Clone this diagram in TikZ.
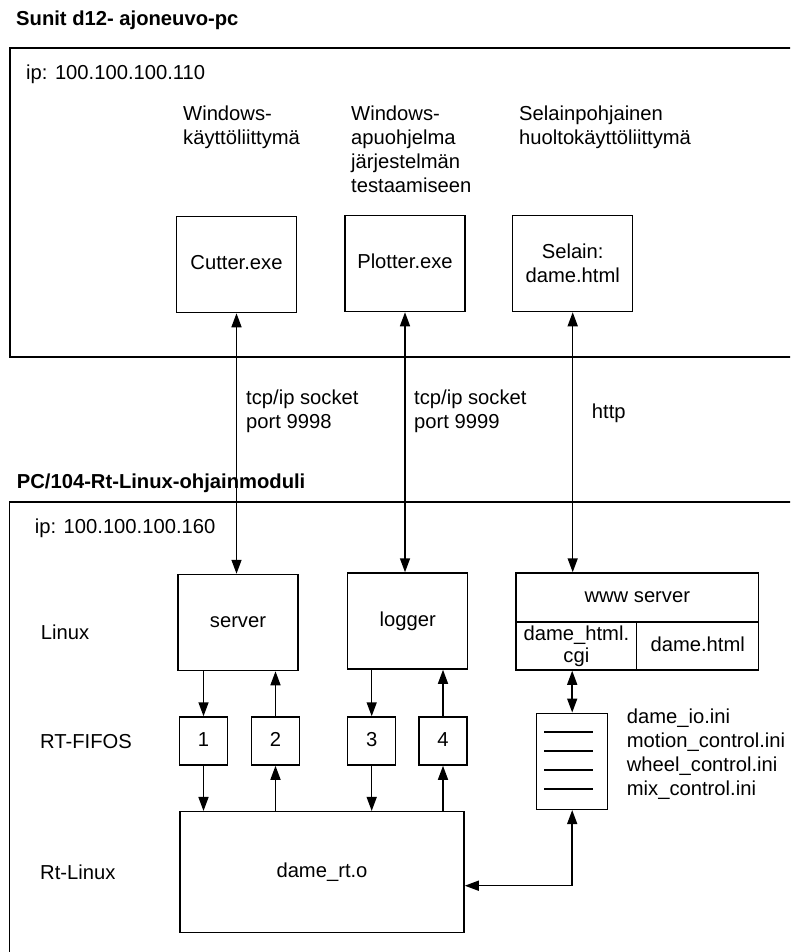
\documentclass[tikz,border=0pt]{standalone}
\usepackage{fontspec}
\setmainfont{Liberation Sans}
\usetikzlibrary{arrows.meta,calc}
\begin{document}
\begin{tikzpicture}[x=1pt,y=-1pt,
  every node/.style={font=\fontsize{20.2}{24}\selectfont},
  box/.style={draw, line width=1.5pt, inner sep=0pt, text height=14.5pt, text depth=4pt},
  frame/.style={draw, line width=1.6pt},
  lbl/.style={anchor=base west, inner sep=0pt, align=left},
  head/.style={lbl, font=\fontsize{20.2}{24}\selectfont\bfseries},
  link/.style={draw, line width=1.5pt,
    {Triangle[length=14pt,width=10pt]}-{Triangle[length=14pt,width=10pt]}},
  flow/.style={draw, line width=1.5pt, -{Triangle[length=14pt,width=10pt]}},
  rule/.style={draw, line width=1.5pt}
]
\useasboundingbox (0,0) rectangle (790,952);
\clip (0,0) rectangle (790,952);

% ---- vehicle PC ----
\node[head] (pctitle) at (16,26) {Sunit d12- ajoneuvo-pc};
\draw[frame] (10,48) rectangle (820,357);
\node[lbl] (pcip) at (26,80) {ip: 100.100.100.110};

% multi-line labels are anchored at the baseline of their last line
\node[lbl] (ui) at (183,145) {Windows-\\käyttöliittymä};
\node[lbl] (tool) at (351,193) {Windows-\\apuohjelma\\järjestelmän\\testaamiseen};
\node[lbl] (web) at (519,145) {Selainpohjainen\\huoltokäyttöliittymä};

\node[box, minimum width=120pt, minimum height=96pt] (cutter) at (236.5,264.5) {Cutter.exe};
\node[box, minimum width=120pt, minimum height=96pt] (plotter) at (405,263.5) {Plotter.exe};
\node[box, minimum width=120pt, minimum height=96pt, align=center, text height=, text depth=] (selain) at (572.7,263.5) {Selain:\\dame.html};

% ---- connection labels ----
\node[lbl] (sock1) at (246,428.5) {tcp/ip socket\\port 9998};
\node[lbl] (sock2) at (414,428.5) {tcp/ip socket\\port 9999};
\node[lbl] (http) at (591.7,418) {http};

% ---- control module ----
\node[head] (modtitle) at (16.7,488) {PC/104-Rt-Linux-ohjainmoduli};
\draw[frame] (9.5,502) rectangle (820,980);
\node[lbl] (modip) at (34.7,533) {ip: 100.100.100.160};

\node[lbl] (linux) at (40.7,639) {Linux};
\node[lbl] (fifos) at (40,748) {RT-FIFOS};
\node[lbl] (rtlinux) at (40,879) {Rt-Linux};

\node[box, minimum width=120pt, minimum height=96pt] (server) at (238,622.5) {server};
\node[box, minimum width=120pt, minimum height=96pt] (logger) at (407.7,621) {logger};

\node[box, minimum width=242.7pt, minimum height=49pt] (www) at (637.3,597.5) {www server};
\node[box, minimum width=120.6pt, minimum height=48pt, align=center, text height=, text depth=] (cgi) at (576.4,646) {dame\_html.\\[-2pt]cgi};
\node[box, minimum width=122pt, minimum height=48pt] (html) at (697.7,646) {dame.html};

\node[box, minimum width=48pt, minimum height=48pt] (f1) at (203.5,741) {1};
\node[box, minimum width=48pt, minimum height=48pt] (f2) at (275.5,741) {2};
\node[box, minimum width=48pt, minimum height=48pt] (f3) at (371.7,741) {3};
\node[box, minimum width=48pt, minimum height=48pt] (f4) at (443,741) {4};

\node[box, minimum width=284pt, minimum height=121pt] (dame) at (322,872.2) {dame\_rt.o};

% configuration file
\node[box, minimum width=71pt, minimum height=96pt] (file) at (572.2,761.3) {};
\foreach \dy in {19.4,38.4,57.4,76.4}
  \draw[rule] ($(file.north west)+(8.5,\dy)$) -- ++(48.5,0);
\node[lbl] (inis) at (626.7,795) {dame\_io.ini\\motion\_control.ini\\wheel\_control.ini\\mix\_control.ini};

% ---- connectors ----
\draw[link] (cutter.south) -- (cutter.south |- server.north);
\draw[link] (plotter.south) -- (plotter.south |- logger.north);
\draw[link] (selain.south) -- (selain.south |- www.north);

\draw[flow] (f1.north |- server.south) -- (f1.north);
\draw[flow] (f2.north) -- (f2.north |- server.south);
\draw[flow] (f3.north |- logger.south) -- (f3.north);
\draw[flow] (f4.north) -- (f4.north |- logger.south);

\draw[flow] (f1.south) -- (f1.south |- dame.north);
\draw[flow] (f2.south |- dame.north) -- (f2.south);
\draw[flow] (f3.south) -- (f3.south |- dame.north);
\draw[flow] (f4.south |- dame.north) -- (f4.south);

\draw[link] (file.north) -- (file.north |- cgi.south);
\coordinate (bend) at (572.2,885.7);
\draw[link] (file.south) -- (bend) -- (dame.east |- bend);
\end{tikzpicture}
\end{document}
